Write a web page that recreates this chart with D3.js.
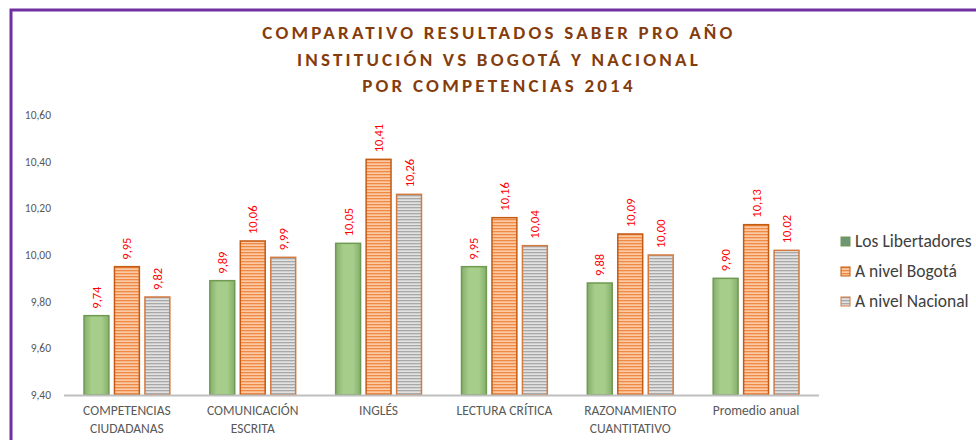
<!doctype html>
<html>
<head>
<meta charset="utf-8">
<script src="https://d3js.org/d3.v7.min.js"></script>
<style>
  body { margin: 0; background: #fff; }
  text { font-family: Calibri, Carlito, "Open Sans", sans-serif; }
</style>
</head>
<body>
<script>
var categories = [["COMPETENCIAS", "CIUDADANAS"], ["COMUNICACIÓN", "ESCRITA"], ["INGLÉS"],
                  ["LECTURA CRÍTICA"], ["RAZONAMIENTO", "CUANTITATIVO"], ["Promedio anual"]];
var seriesNames = ["Los Libertadores", "A nivel Bogotá", "A nivel Nacional"];
var libertadores = [9.74, 9.89, 10.05, 9.95, 9.88, 9.90];
var bogota = [9.95, 10.06, 10.41, 10.16, 10.09, 10.13];
var nacional = [9.82, 9.99, 10.26, 10.04, 10.00, 10.02];
var yTicks = [9.40, 9.60, 9.80, 10.00, 10.20, 10.40, 10.60];
var titleLines = ["COMPARATIVO RESULTADOS SABER PRO AÑO", "INSTITUCIÓN VS BOGOTÁ Y NACIONAL", "POR COMPETENCIAS 2014"];

var series = [libertadores, bogota, nacional];
var fmt = function (v) { return d3.format(".2f")(v).replace(".", ","); };

var svg = d3.select("body").append("svg").attr("width", 976).attr("height", 440);
var defs = svg.append("defs");

// green gradient
var g = defs.append("linearGradient").attr("id", "gGreen").attr("x1", 0).attr("x2", 1).attr("y1", 0).attr("y2", 0);
g.append("stop").attr("offset", "0%").attr("stop-color", "#86AE6C");
g.append("stop").attr("offset", "30%").attr("stop-color", "#A6CE8A");
g.append("stop").attr("offset", "70%").attr("stop-color", "#A6CE8A");
g.append("stop").attr("offset", "100%").attr("stop-color", "#86AE6C");

function stripes(id, c1, c2) {
    var p = defs.append("pattern").attr("id", id).attr("patternUnits", "userSpaceOnUse")
        .attr("width", 4).attr("height", 3);
    p.append("rect").attr("width", 4).attr("height", 3).attr("fill", c2);
    p.append("rect").attr("width", 4).attr("height", 1.3).attr("fill", c1);
}
stripes("pOrange", "#EE8A45", "#FCC9A3");
stripes("pGray", "#A8A8A8", "#E2E2E2");

var fills = ["url(#gGreen)", "url(#pOrange)", "url(#pGray)"];
var strokes = ["#6F9A51", "#C55A11", "#D27A40"];

// frame
svg.append("path").attr("d", "M11,440 L11,10 L976,10").attr("fill", "none")
    .attr("stroke", "#7030A0").attr("stroke-width", 3);

// title
svg.append("g").selectAll("text").data(titleLines).enter().append("text")
    .attr("x", 499).attr("y", function (d, i) { return 39 + i * 26.5; })
    .attr("text-anchor", "middle").attr("fill", "#843C0C")
    .attr("font-size", 19).attr("font-weight", "bold").attr("letter-spacing", 3.2)
    .text(function (d) { return d; });

var x = d3.scaleBand().domain(d3.range(categories.length)).range([64, 819]).paddingInner(0.31).paddingOuter(0.155);
var xs = d3.scaleBand().domain([0, 1, 2]).range([0, x.bandwidth()]).paddingInner(0.15);
var y = d3.scaleLinear().domain([9.4, 10.6]).range([395, 115]);

// y axis labels
svg.append("g").selectAll("text").data(yTicks).enter().append("text")
    .attr("x", 51).attr("y", function (d) { return y(d) + 4; })
    .attr("text-anchor", "end").attr("font-size", 11.5).attr("fill", "#595959")
    .text(fmt);

// bars
var groups = svg.append("g").selectAll("g").data(categories).enter().append("g")
    .attr("transform", function (d, i) { return "translate(" + x(i) + ",0)"; });

groups.each(function (d, i) {
    var grp = d3.select(this);
    series.forEach(function (s, k) {
        grp.append("rect")
            .attr("x", xs(k) + 0.5).attr("y", y(s[i]))
            .attr("width", xs.bandwidth() - 1).attr("height", y(9.4) - y(s[i]))
            .attr("fill", fills[k]).attr("stroke", strokes[k]).attr("stroke-width", 1.5);
        grp.append("text")
            .attr("transform", "translate(" + (xs(k) + xs.bandwidth() / 2 + 4.5) + "," + (y(s[i]) - 7) + ") rotate(-90)")
            .attr("font-size", 12.5).attr("fill", "#FF0000")
            .text(fmt(s[i]));
    });
});

// axis line
svg.append("line").attr("x1", 64).attr("x2", 819).attr("y1", 395.5).attr("y2", 395.5)
    .attr("stroke", "#BFBFBF").attr("stroke-width", 2);

// category labels
groups.each(function (d, i) {
    var t = d3.select(this).append("text").attr("text-anchor", "middle")
        .attr("font-size", 13.5).attr("fill", "#595959");
    d.forEach(function (line, j) {
        t.append("tspan").attr("x", x.bandwidth() / 2).attr("y", 415 + j * 18).text(line);
    });
});

// legend
var leg = svg.append("g").selectAll("g").data(seriesNames).enter().append("g")
    .attr("transform", function (d, i) { return "translate(841," + (237 + i * 30) + ")"; });
leg.append("rect").attr("width", 9).attr("height", 9)
    .attr("fill", function (d, i) { return i === 0 ? "#6E9574" : fills[i]; })
    .attr("stroke", function (d, i) { return strokes[i]; }).attr("stroke-width", 1);
leg.append("text").attr("x", 14).attr("y", 10).attr("font-size", 17.5).attr("fill", "#404040")
    .text(function (d) { return d; });
</script>
</body>
</html>
